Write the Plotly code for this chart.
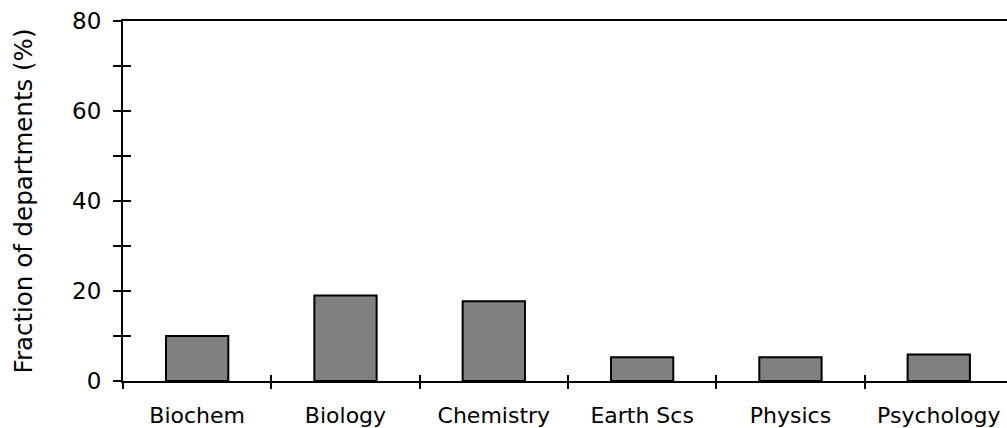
import plotly.graph_objects as go

categories = ["Biochem", "Biology", "Chemistry", "Earth Scs", "Physics", "Psychology"]
values = [10.0, 19.0, 17.7, 5.3, 5.3, 5.9]
y_tick_vals = [0, 20, 40, 60, 80]
y_title = "Fraction of departments (%)"

FONT = dict(family="DejaVu Sans, Verdana, sans-serif", size=22, color="#000000")
YFONT = dict(family="DejaVu Sans, Verdana, sans-serif", size=23, color="#000000")
TITLE_FONT = dict(family="DejaVu Sans, Verdana, sans-serif", size=24.5, color="#000000")

fig = go.Figure()
fig.add_trace(go.Bar(
    x=categories, y=values,
    marker=dict(color="#808080", line=dict(color="#000000", width=2)),
    width=0.42, hoverinfo="skip", showlegend=False,
))
# invisible duplicate so overlay axes (used for crossing ticks) render
fig.add_trace(go.Bar(
    x=categories, y=values, xaxis="x2", yaxis="y2",
    marker=dict(color="rgba(0,0,0,0)", line=dict(width=0)), width=0.42,
    hoverinfo="skip", showlegend=False,
))

xr = [-0.5, 5.46]
fig.update_layout(
    width=1007, height=428,
    margin=dict(l=123, r=0, t=21, b=47, pad=0),
    paper_bgcolor="white", plot_bgcolor="white",
    font=FONT,
    bargap=0.58,
    xaxis=dict(
        type="category", categoryorder="array", categoryarray=categories,
        range=xr, showline=True, linecolor="black", linewidth=2, mirror=True,
        ticks="outside", tickson="boundaries", ticklen=6, tickwidth=2, tickcolor="black",
        showgrid=False, zeroline=False, tickfont=FONT, ticklabelstandoff=14,
    ),
    xaxis2=dict(
        type="category", categoryorder="array", categoryarray=categories,
        range=xr, overlaying="x", side="bottom", showline=False,
        ticks="inside", tickson="boundaries", ticklen=6, tickwidth=2, tickcolor="black",
        showticklabels=False, showgrid=False, zeroline=False,
    ),
    yaxis=dict(
        range=[0, 80], tickvals=y_tick_vals, showline=True, linecolor="black", linewidth=2,
        ticks="outside", ticklen=8, tickwidth=2, tickcolor="black",
        minor=dict(dtick=10, tick0=0, ticks="outside", ticklen=8, tickwidth=2, tickcolor="black", showgrid=False),
        showgrid=False, zeroline=False, tickfont=YFONT, ticklabelstandoff=7,
        title=dict(text=y_title, font=TITLE_FONT, standoff=33),
    ),
    yaxis2=dict(
        range=[0, 80], tickvals=y_tick_vals, overlaying="y", side="left", showline=False,
        ticks="inside", ticklen=8, tickwidth=2, tickcolor="black",
        minor=dict(dtick=10, tick0=0, ticks="inside", ticklen=8, tickwidth=2, tickcolor="black", showgrid=False),
        showticklabels=False, showgrid=False, zeroline=False,
    ),
)

fig.write_html(
    "out.html",
    config={"displayModeBar": False},
    post_script="document.body.style.margin='0';document.body.style.overflow='hidden';",
)
